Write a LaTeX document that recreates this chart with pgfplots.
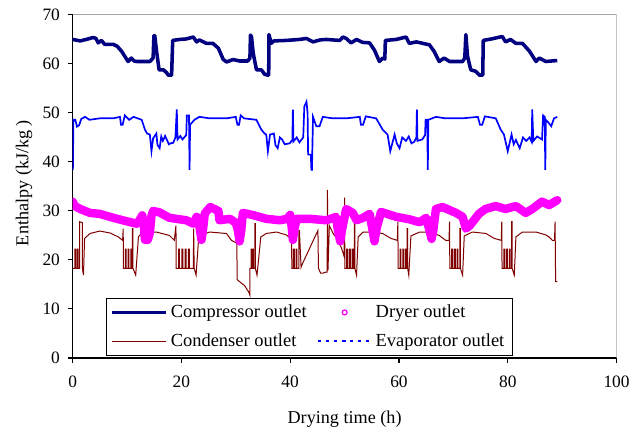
\documentclass[border=0pt]{standalone}
\usepackage{fontspec}
\setmainfont{Liberation Serif}
\usepackage{pgfplots}
\pgfplotsset{compat=1.18}

\definecolor{compcol}{RGB}{0,0,128}
\definecolor{evapcol}{RGB}{0,0,255}
\definecolor{condcol}{RGB}{128,0,0}
\definecolor{dryercol}{RGB}{255,0,255}

\begin{document}
\begin{tikzpicture}
\useasboundingbox (-47.2pt,-46.8pt) rectangle (363pt,232.7pt);
\begin{axis}[
    at={(0,0)}, anchor=south west,
    width=353.6pt, height=223pt, scale only axis,
    xmin=0, xmax=100, ymin=0, ymax=70,
    xtick={0,20,...,100}, ytick={0,10,...,70},
    axis x line*=bottom, axis y line*=left,
    axis line style={-, line width=0.8pt},
    tick align=outside, major tick length=3.3pt,
    tick style={black, line width=0.7pt},
    /pgf/number format/assume math mode=true,
    tick label style={font=\fontsize{11.3}{13}\selectfont},
    xticklabel style={yshift=-5pt},
    yticklabel style={xshift=-1.4pt},
    xlabel={Drying time (h)},
    ylabel={Enthalpy (kJ/kg )},
    label style={font=\fontsize{11.8}{13}\selectfont},
    xlabel style={at={(axis description cs:0.5,-0.178)}, anchor=center},
    ylabel style={at={(axis description cs:-0.0894,0.51)}, anchor=center},
    legend columns=2,
    legend cell align=left,
    legend image code/.code={\draw[mark repeat=2,mark phase=2] plot coordinates {(0pt,0pt) (17.5pt,0pt) (35pt,0pt)};},
    legend style={at={(axis description cs:0.0607,0.0067)}, anchor=south west,
        draw=black, line width=0.7pt, fill=white,
        font=\fontsize{12}{13.5}\selectfont,
        row sep=5pt,
        /tikz/every even column/.append style={column sep=4.5pt}},
    clip=true,
]
% compressor outlet
\addplot[compcol, line width=2.3pt, line join=round, forget plot] coordinates {
(0,65.0) (0.5,64.9) (1.4,64.7) (2.5,65.0) (3.8,65.4) (4.3,65.2) (4.7,64.3) (5.3,64.8) (5.9,64.0) (7.5,64.0) (8.2,63.6) (9.0,62.6) (10.2,60.5) (10.8,61.2) (11.3,60.6) (11.8,60.5) (14.2,60.5) (14.8,61.2) (14.95,65.8) (15.1,65.8) (15.4,62.9) (15.9,58.8) (16.7,58.8) (17.3,58.2) (17.6,57.7) (18.2,57.7) (18.4,64.8) (19.7,65.0) (20.9,65.1) (22.2,65.5) (22.8,64.5) (23.3,64.9) (24.6,64.2) (25.8,64.2) (26.8,63.2) (27.7,60.9) (28.3,60.4) (29.5,60.9) (30.7,60.6) (32.2,60.6) (32.6,61.2) (32.7,65.9) (32.9,65.5) (33.2,62.2) (33.8,58.8) (34.7,58.8) (35.3,57.9) (35.9,57.7) (36.05,57.7) (36.1,66.0) (36.5,64.2) (37,64.7) (39.3,64.8) (41.7,65.0) (43,65.2) (44.2,64.5) (45.5,64.9) (46.6,65.0) (49.1,64.8) (49.7,65.5) (50.3,65.2) (51.2,64.3) (52.2,65.0) (53.3,64.4) (54.6,64.3) (55.5,62.8) (56.4,60.5) (57.0,61.2) (57.4,61.0) (57.5,64.8) (59.5,65.0) (61.3,65.5) (61.9,64.2) (63.2,64.5) (65.6,63.9) (66.5,62.5) (67.4,60.5) (68.3,61.2) (69.3,60.5) (71.7,60.5) (72.1,61.2) (72.3,66.0) (72.6,61.6) (73.2,58.8) (74.1,58.5) (74.8,57.7) (75.4,57.7) (75.5,64.8) (77,65.1) (79.0,65.6) (79.6,64.5) (80.5,65.0) (81.5,64.2) (82.7,64.2) (84,62.6) (85.2,60.5) (85.8,61.2) (87.0,60.5) (89.1,60.7)
};
% evaporator outlet
\addplot[evapcol, line width=1.1pt, forget plot] coordinates {
(0,49.0) (0.05,38.4) (0.15,48.5) (0.5,48.6) (0.8,47.2) (1.2,47.5) (1.6,48.8) (2.3,49.2) (3.1,48.6) (5.0,48.9) (7.5,48.9) (8.7,49.2) (8.9,47.6) (9.2,47.6) (9.6,49.5) (10.4,48.6) (11.2,49.2) (12.7,48.6) (13.3,46.6) (13.7,45.8) (14.2,45.6) (14.5,42.2) (14.8,44.8) (15.4,45.8) (15.6,43.5) (16.0,42.8) (16.3,45.2) (16.6,44.3) (17.0,45.3) (17.3,44.6) (17.7,43.6) (18.0,43.8) (18.5,43.9) (18.9,45) (19.1,49.5) (19.15,50.7) (19.3,44.6) (19.8,45.3) (20.2,44.6) (20.9,45.5) (21.0,49.5) (21.4,49.5) (21.5,38.4) (21.6,47.6) (22.4,48.6) (23.3,49.2) (25.2,48.9) (28.3,48.9) (30.0,49.2) (30.3,47.6) (30.6,47.6) (30.9,49.5) (31.5,48.9) (33.8,48.6) (34.7,46.6) (35.3,45.8) (35.6,45.6) (35.9,42.2) (36.3,45.6) (37.0,45.8) (37.3,43.4) (37.7,42.8) (38.1,45.0) (38.5,44.6) (39.0,43.6) (39.9,43.8) (40.4,44.5) (40.5,50.7) (40.6,44.2) (41.2,45.0) (41.7,44.0) (42.4,45) (42.6,51.3) (43.0,52.3) (43.2,50) (43.3,41.5) (43.8,41.5) (43.9,38.4) (44.0,38.4) (44.2,49.2) (44.8,47.3) (45.4,47.3) (46.0,49.2) (47.8,48.9) (50.3,48.9) (52.8,49.2) (53.0,47.6) (53.4,47.6) (53.9,49.3) (55.8,48.9) (57.0,46.6) (57.9,45.6) (58.4,42.2) (59.2,45.6) (59.6,43.8) (60.1,42.8) (60.6,45.0) (61.3,44.3) (61.8,45.2) (62.3,43.8) (62.8,44.1) (63.2,45) (63.3,50.7) (63.4,44.3) (64.3,44.6) (64.8,45.5) (64.9,48.6) (65.2,48.6) (65.3,38.4) (65.4,48.6) (66.8,49.2) (68.5,48.9) (71.7,48.9) (74.5,49.2) (74.9,47.6) (75.3,47.6) (75.8,49.3) (77.8,48.9) (78.7,46.6) (79.3,45.6) (80.0,42.2) (80.7,45.6) (81.1,43.6) (81.5,44.5) (82.2,42.8) (82.8,45.0) (83.4,44.3) (84.0,45.0) (84.4,44.1) (84.5,50.7) (84.7,44.3) (85.4,45.2) (86.3,44.6) (86.5,49.5) (86.8,49.2) (86.9,38.4) (87.0,48.6) (87.5,48.0) (88.0,47.3) (88.5,48.9) (89.1,49.2)
};
% condenser outlet
\addplot[condcol, line width=0.65pt, forget plot] coordinates {
(0,18.3) (0.4,18.3) (0.4,22.2) (0.55,22.2) (0.55,18.3) (0.85,18.3) (0.85,22.2) (1.0,22.2) (1.0,18.3) (1.3,18.3) (1.3,27.8) (1.8,27.6) (1.8,18.3) (2.0,16.9) (2.2,24.4) (3.2,25.4) (5.0,25.9) (6.9,25.5) (8.4,24.7) (9.2,24.0)
(9.3,26.4) (9.35,18.3) (9.7,18.3) (9.7,22.2) (9.85,22.2) (9.85,18.3) (10.2,18.3) (10.2,22.2) (10.35,22.2) (10.35,18.3) (10.7,18.3) (10.7,22.2) (10.85,22.2) (10.85,18.3) (11.0,18.3) (11.0,26.4) (11.1,26.4) (11.1,18.3) (11.6,16.9) (12.1,24.7) (12.9,25.7) (15.4,25.7) (17.8,25.0) (18.7,24.0)
(19.0,27.0) (19.05,18.3) (19.5,18.3) (19.5,22.2) (19.65,22.2) (19.65,18.3) (20.1,18.3) (20.1,22.2) (20.25,22.2) (20.25,18.3) (20.7,18.3) (20.7,22.2) (20.85,22.2) (20.85,18.3) (21.3,18.3) (21.3,22.2) (21.45,22.2) (21.45,18.3) (22.2,18.3) (22.25,26.4) (22.35,18.3) (22.7,16.9) (23.2,24.9) (25.2,25.7) (28.3,25.4) (29.2,24.0) (30.2,23.4)
(30.25,16.0) (31.0,15.3) (31.6,14.8) (32.4,13.4) (32.6,12.8) (32.6,18.3) (32.8,18.3) (32.8,22.2) (32.95,22.2) (32.95,18.3) (33.1,18.3) (33.1,22.2) (33.25,22.2) (33.25,18.3) (33.5,18.3) (33.5,27.4) (33.6,27.4) (33.6,18.3) (33.9,16.9) (34.6,24.7) (35.6,25.4) (37.5,25.7) (39.3,25.1) (40.2,24.3)
(40.25,27.2) (40.3,18.3) (40.6,18.3) (40.6,22.2) (40.75,22.2) (40.75,18.3) (41.1,18.3) (41.1,22.2) (41.25,22.2) (41.25,18.3) (41.6,18.3) (41.6,26) (41.7,26) (42.0,18.5) (42.2,19.1) (43.5,22.2) (44.5,24.6) (45.1,26.0) (45.2,18.3) (45.6,17.3) (46.0,17.3) (46.5,17.5) (46.8,17.5) (46.85,34.3) (46.95,17.9) (47.2,27.0) (47.9,25.4) (48.7,24.1) (49.4,22.5) (49.9,20.8)
(50.0,32.7) (50.05,18.3) (50.4,18.3) (50.4,22.2) (50.55,22.2) (50.55,18.3) (50.9,18.3) (50.9,22.2) (51.05,22.2) (51.05,18.3) (51.4,18.3) (51.4,22.2) (51.55,22.2) (51.55,18.3) (51.8,18.3) (51.8,27.8) (51.9,27.8) (51.9,18.3) (52.2,16.9) (52.5,24.7) (53.4,25.7) (55.2,25.7) (57.0,25.4) (58.5,24.4) (59.7,24.0)
(59.8,27.8) (59.85,18.3) (60.2,18.3) (60.2,22.2) (60.35,22.2) (60.35,18.3) (60.7,18.3) (60.7,22.2) (60.85,22.2) (60.85,18.3) (61.2,18.3) (61.2,22.2) (61.35,22.2) (61.35,18.3) (61.5,18.3) (61.5,26.4) (61.6,26.4) (61.6,18.3) (61.8,16.9) (62.2,24.9) (63.8,25.7) (65.6,25.7) (67.4,25.0) (68.6,24.0) (69.2,24.0)
(69.3,27.8) (69.35,18.3) (69.7,18.3) (69.7,22.2) (69.85,22.2) (69.85,18.3) (70.2,18.3) (70.2,22.2) (70.35,22.2) (70.35,18.3) (70.7,18.3) (70.7,22.2) (70.85,22.2) (70.85,18.3) (71.2,18.3) (71.2,26.4) (71.3,26.4) (71.3,18.3) (71.7,16.9) (72.0,24.9) (73.5,25.7) (76.0,25.4) (77.5,24.4) (78.8,24.0)
(78.9,27.8) (78.95,18.3) (79.3,18.3) (79.3,22.2) (79.45,22.2) (79.45,18.3) (79.8,18.3) (79.8,22.2) (79.95,22.2) (79.95,18.3) (80.3,18.3) (80.3,22.2) (80.45,22.2) (80.45,18.3) (80.7,18.3) (80.7,27.8) (80.8,27.8) (80.8,18.3) (81.2,16.9) (81.5,24.7) (82.7,25.7) (85.2,25.7) (87.0,25.1) (87.6,24.7) (88.2,24.0) (88.6,24.0) (88.7,27.8) (88.8,15.6) (89.1,15.6)
};
% dryer outlet
\addplot[dryercol, line width=5.5pt, line join=round, line cap=round, forget plot] coordinates {
(0,31.9) (0.4,31.0) (1.4,30.4) (3.2,29.6) (5.0,29.4) (7.5,28.6) (9.9,27.9) (11.8,27.4) (12.3,28.1) (12.8,29.1) (13.1,27) (13.3,24.1) (13.8,24.1) (14.2,25.5) (14.5,29) (14.8,30.0) (16,29.7) (17.8,28.6) (20.9,28.1) (22.2,27.4) (22.8,28.8) (23.3,27.0) (23.7,24.1) (24.0,26.5) (24.3,29.5) (25.3,30.8) (26.8,30.0) (27.0,28.1) (28.9,28.4) (30.0,27.6) (30.4,26) (30.7,23.8) (31.0,26) (31.3,29.6) (33,29.2) (35.6,28.4) (38.1,28.1) (39.5,28.4) (40.0,29.2) (40.3,26.5) (40.5,24.1) (40.8,26.5) (41.2,28.4) (43.6,28.4) (46.6,28.1) (48.0,28.6) (48.4,28.8) (48.8,26) (49.2,23.8) (49.5,26) (50.3,30.4) (51.5,29.6) (52.2,28.1) (53.4,28.6) (54.6,29.4) (55.0,27) (55.5,23.8) (55.9,26.5) (56.7,29.8) (59.5,28.8) (61.9,28.3) (63.8,27.7) (65.0,28.6) (65.5,26.5) (66.0,24.3) (66.3,26) (66.8,30.4) (68.0,30.8) (70.5,29.6) (71.7,28.8) (72.3,26.4) (73.0,27.0) (73.5,27.7) (74.7,29.4) (75.9,30.4) (77.8,31.0) (79.6,30.4) (81.5,31.0) (83.3,29.6) (84.5,30.4) (86.3,31.9) (87.6,31.2) (89.1,32.2)
};
\addlegendimage{compcol, line width=2pt}
\addlegendentry{Compressor outlet}
\addlegendimage{dryercol, line width=0.8pt, legend image code/.code={\draw[mark=o, mark size=1.6pt] plot coordinates {(17.5pt,0pt)};}}
\addlegendentry{Dryer outlet}
\addlegendimage{condcol, line width=0.7pt}
\addlegendentry{Condenser outlet}
\addlegendimage{evapcol, line width=1.4pt, dash pattern=on 2.2pt off 3pt}
\addlegendentry{Evaporator outlet}
\draw[gray!70, line width=0.7pt] (rel axis cs:0,1) -- (rel axis cs:1,1) -- (rel axis cs:1,0);
\end{axis}
\end{tikzpicture}
\end{document}
